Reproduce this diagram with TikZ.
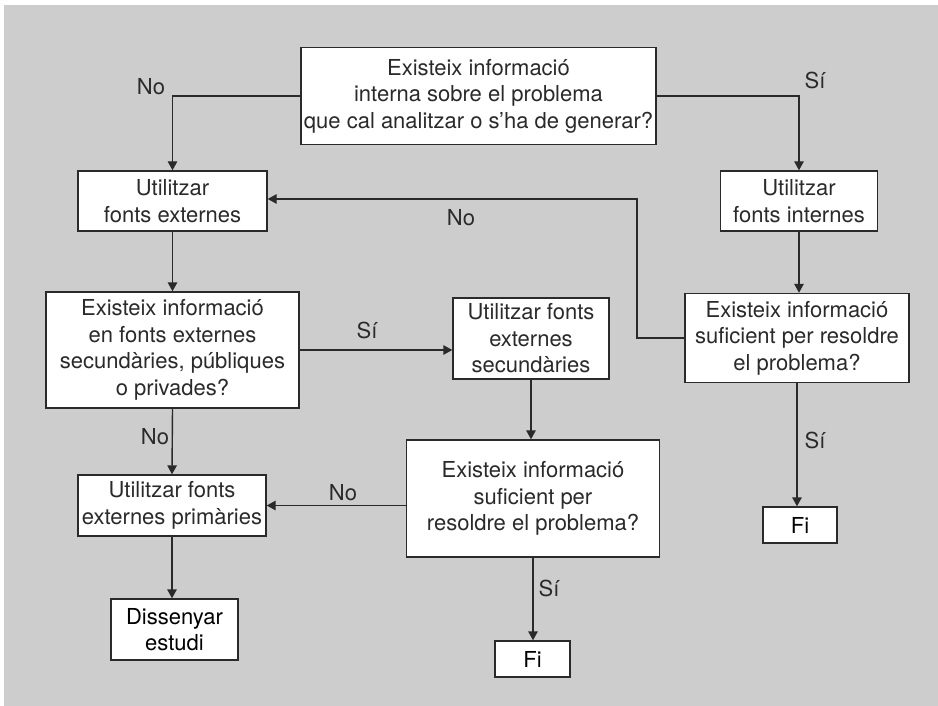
\documentclass[tikz,border=0pt]{standalone}
\usepackage{fontspec}
\setmainfont{TeX Gyre Heros}
\usetikzlibrary{arrows.meta}
\definecolor{bg}{RGB}{205,205,205}
\definecolor{ink}{RGB}{42,42,42}
\begin{document}
\begin{tikzpicture}[x=1pt,y=-1pt,
  box/.style={draw=ink, line width=1.4pt, fill=white, align=center, inner sep=0pt,
    font=\fontsize{22}{26.5}\selectfont, text=ink},
  endbox/.style={box, text=black},
  lab/.style={font=\fontsize{22}{26.5}\selectfont, text=ink, inner sep=0pt},
  arr/.style={draw=ink, line width=1.4pt, -{Triangle[length=9pt,width=9.5pt]}}]
\useasboundingbox (0,0) rectangle (938,706);
\fill[white] (0,0) rectangle (938,706);
\fill[bg] (4,5) rectangle (938,706);

\node[box, minimum width=355pt, minimum height=97pt] (top) at (478.5,96)
  {Existeix informació\\interna sobre el problema\\que cal analitzar o s'ha de generar?};
\node[box, minimum width=189pt, minimum height=60pt] (ext) at (172.5,201)
  {Utilitzar\\fonts externes};
\node[box, minimum width=157pt, minimum height=60pt] (int) at (799,201)
  {Utilitzar\\fonts internes};
\node[box, minimum width=224pt, minimum height=89pt] (rdec) at (797,338)
  {Existeix informació\\suficient per resoldre\\el problema?};
\node[box, minimum width=253pt, minimum height=116pt] (ldec) at (172.5,350)
  {Existeix informació\\en fonts externes\\secundàries, públiques\\o privades?};
\node[box, minimum width=156pt, minimum height=81pt] (sec) at (531,338.5)
  {Utilitzar fonts\\externes\\secundàries};
\node[box, minimum width=253pt, minimum height=117pt] (mdec) at (533,498.5)
  {Existeix informació\\suficient per\\resoldre el problema?};
\node[box, minimum width=188pt, minimum height=61pt] (prim) at (172,505.5)
  {Utilitzar fonts\\externes primàries};
\node[endbox, minimum width=127pt, minimum height=61pt] (diss) at (174.5,629.5)
  {Dissenyar\\estudi};
\node[endbox, minimum width=75pt, minimum height=36pt] (fimid) at (532.5,659)
  {Fi};
\node[endbox, minimum width=74pt, minimum height=36pt] (firt) at (800,525)
  {Fi};

\coordinate (fb) at (637,199);

\draw[arr] (top.west) -| (ext.north);
\draw[arr] (top.east) -| (int.north);
\draw[arr] (int.south) -- (int.south |- rdec.north);
\draw[arr] (rdec.west) -| (fb) -- (fb -| ext.east);
\draw[arr] (ext.south) -- (ldec.north);
\draw[arr] (ldec.east) -- (ldec.east -| sec.west);
\draw[arr] (sec.south) -- (sec.south |- mdec.north);
\draw[arr] (ldec.south) -- (prim.north);
\draw[arr] (mdec.west |- prim.east) -- (prim.east);
\draw[arr] (mdec.south) -- (mdec.south |- fimid.north);
\draw[arr] (prim.south) -- (prim.south |- diss.north);
\draw[arr] (rdec.south) -- (rdec.south |- firt.north);

\node[lab] (l1) at (151,87) {No};
\node[lab] (l2) at (815,80) {Sí};
\node[lab] (l3) at (461,218) {No};
\node[lab] (l4) at (367,330) {Sí};
\node[lab] (l5) at (155,437) {No};
\node[lab] (l6) at (343,493) {No};
\node[lab] (l7) at (549,588) {Sí};
\node[lab] (l8) at (815,440) {Sí};
\end{tikzpicture}
\end{document}
